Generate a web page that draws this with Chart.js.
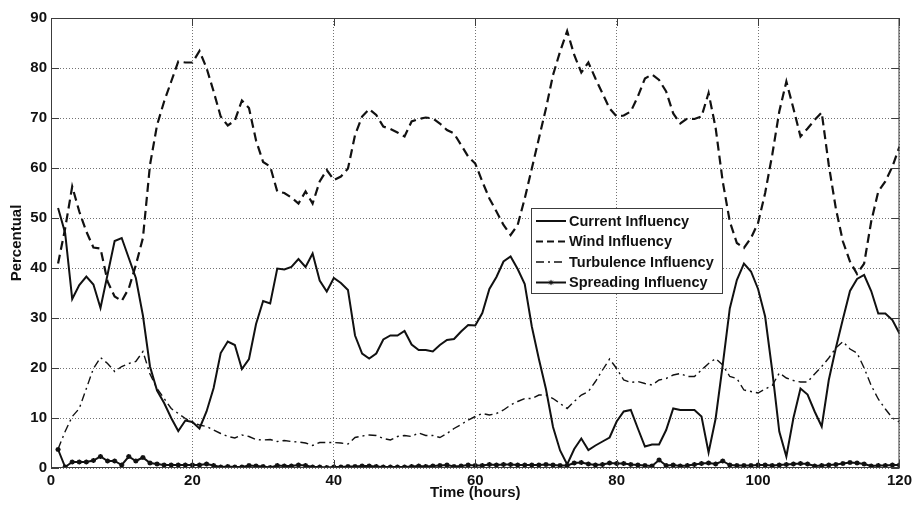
<!DOCTYPE html>
<html>
<head>
<meta charset="utf-8">
<script src="https://cdn.jsdelivr.net/npm/chart.js@4.4.1/dist/chart.umd.min.js"></script>
<style>
  html, body { margin: 0; padding: 0; background: #ffffff; }
  #c { display: block; }
</style>
</head>
<body>
<canvas id="c" width="916" height="512"></canvas>
<script>
// ---- data ----
const hours = [1,2,3,4,5,6,7,8,9,10,11,12,13,14,15,16,17,18,19,20,
  21,22,23,24,25,26,27,28,29,30,31,32,33,34,35,36,37,38,39,40,
  41,42,43,44,45,46,47,48,49,50,51,52,53,54,55,56,57,58,59,60,
  61,62,63,64,65,66,67,68,69,70,71,72,73,74,75,76,77,78,79,80,
  81,82,83,84,85,86,87,88,89,90,91,92,93,94,95,96,97,98,99,100,
  101,102,103,104,105,106,107,108,109,110,111,112,113,114,115,116,117,118,119,120];

const currentInfluency = [52,47,33.8,36.6,38.3,36.7,32,38.7,45.4,46,
  42,38,30.5,20.3,15.5,13,10,7.4,9.5,9.2,
  7.9,11.3,16,23,25.3,24.6,19.8,21.8,28.8,33.4,
  32.9,39.9,39.7,40.2,41.8,40.2,42.9,37.5,35.3,38,
  37,35.6,26.5,22.9,21.9,22.9,25.7,26.5,26.5,27.4,
  24.7,23.6,23.6,23.3,24.6,25.6,25.8,27.3,28.6,28.5,
  31,35.8,38.2,41.3,42.3,39.8,36.8,28.3,21.8,15.8,
  8.2,3.5,0.7,3.8,5.9,3.6,4.5,5.3,6.1,9.3,
  11.3,11.6,7.9,4.3,4.7,4.7,7.6,11.9,11.6,11.6,
  11.6,10.3,3.1,9.9,20.6,31.9,37.6,40.9,39.3,35.8,
  30.3,19.5,7.3,2.3,10,15.9,14.7,11.3,8.3,17.6,
  24,29.8,35.4,37.8,38.6,35.4,30.9,30.9,29.6,26.9];

const windInfluency = [40.9,47.9,56.3,51.3,47.3,44.1,43.9,37.3,34.3,33.4,
  35.9,40.6,46,60.6,68.6,73.3,77.3,81.3,81.1,81.1,
  83.4,80,75.3,70.3,68.5,69.5,73.5,72,65.5,61.2,
  60.3,55.3,55,54.1,52.9,55.3,52.9,57.3,59.6,57.6,
  58.3,59.9,66.6,70.3,71.8,70.6,68.3,67.8,67.1,66.3,
  69.3,69.8,70.1,69.9,68.9,67.6,66.9,64.6,62.3,60.9,
  57.3,53.9,51.3,48.6,46.6,48.6,53.9,59.9,65.9,71.9,
  78.6,83.3,87.4,82.6,79.1,81.1,77.9,74.9,71.9,70.3,
  70.5,71.3,74.3,77.9,78.7,77.6,75.3,70.9,68.9,69.9,
  69.8,70.3,75,68,57.3,49.3,45,44,46,49,
  55,62.6,71.3,77.3,71.9,66.3,67.9,69.6,71.1,60.6,
  51.9,45.3,41.3,38.8,40.9,49.3,55.3,57.3,60.3,64.3];

const turbulenceInfluency = [3.8,7.3,10.3,11.9,15.9,19.9,22.1,20.9,19.3,20.3,
  20.9,21.3,23.3,18.8,15.9,13.9,11.9,10.9,9.9,9.1,
  8.6,8.3,7.6,6.9,6.3,6,6.6,6.3,5.7,5.6,
  5.7,5.3,5.5,5.3,5.2,5,4.5,5.1,5.1,5.1,
  5,4.8,6.1,6.4,6.6,6.5,5.9,5.6,6.3,6.5,
  6.3,7,6.5,6.5,6.1,6.9,7.9,8.7,9.6,10.3,
  10.9,10.6,10.9,11.6,12.6,13.3,13.9,13.9,14.6,14.6,
  13.9,12.9,11.9,13.3,14.6,15.3,17.3,19.6,21.8,19.9,
  17.6,17.1,17.3,16.9,16.6,17.6,17.9,18.6,18.9,18.3,
  18.3,19.6,20.9,21.9,20.6,18.3,17.9,15.6,15.3,15,
  15.8,16.5,19,18,17.5,17.2,17.2,18.8,20.3,22,
  24,25.3,23.8,23,20,16.5,13.8,11.8,10,9.2];

const spreadingInfluency = [3.7,0.2,1.2,1.2,1.2,1.5,2.3,1.4,1.4,0.6,
  2.3,1.4,2.1,1.0,0.8,0.6,0.6,0.6,0.6,0.6,
  0.6,0.8,0.5,0.2,0.3,0.2,0.2,0.5,0.4,0.3,
  0.1,0.5,0.4,0.4,0.6,0.5,0.2,0.2,0.1,0.2,
  0.2,0.3,0.3,0.4,0.4,0.3,0.2,0.2,0.2,0.2,
  0.3,0.4,0.3,0.4,0.5,0.6,0.3,0.4,0.6,0.5,
  0.5,0.7,0.6,0.7,0.7,0.6,0.6,0.6,0.6,0.7,
  0.6,0.5,0.5,1.0,1.1,0.8,0.6,0.7,1.0,0.9,
  0.9,0.7,0.6,0.5,0.4,1.6,0.5,0.6,0.4,0.5,
  0.7,0.9,1.0,0.8,1.4,0.6,0.5,0.5,0.5,0.6,
  0.6,0.5,0.6,0.7,0.8,0.9,0.8,0.4,0.5,0.6,
  0.7,0.9,1.1,1.0,0.8,0.4,0.5,0.5,0.6,0.6];

const seriesLabels = ['Current Influency','Wind Influency','Turbulence Influency','Spreading Influency'];
const xTickValues = [0,20,40,60,80,100,120];
const yTickValues = [0,10,20,30,40,50,60,70,80,90];

// ---- helpers ----
const pts = (vals) => hours.map((h, i) => ({ x: h, y: vals[i] }));
const FONT = 'Liberation Sans, Arial, Helvetica, sans-serif';

Chart.defaults.font.family = FONT;
Chart.defaults.color = '#111';

const frameAndLegend = {
  id: 'frameAndLegend',
  afterDatasetsDraw(chart) {
    const { ctx, chartArea: a, scales: { x, y } } = chart;
    ctx.save();
    // box
    ctx.strokeStyle = '#3c3c3c';
    ctx.lineWidth = 1;
    ctx.setLineDash([]);
    ctx.strokeRect(a.left + 0.5, a.top + 0.5, a.right - a.left - 1, a.bottom - a.top - 1);
    // inward ticks
    const tl = 8;
    ctx.beginPath();
    xTickValues.forEach(v => {
      const px = Math.round(x.getPixelForValue(v)) + 0.5;
      ctx.moveTo(px, a.bottom); ctx.lineTo(px, a.bottom - tl);
      ctx.moveTo(px, a.top); ctx.lineTo(px, a.top + tl);
    });
    yTickValues.forEach(v => {
      const py = Math.round(y.getPixelForValue(v)) + 0.5;
      ctx.moveTo(a.left, py); ctx.lineTo(a.left + tl, py);
      ctx.moveTo(a.right, py); ctx.lineTo(a.right - tl, py);
    });
    ctx.stroke();

    // legend
    const lx = 531, ly = 208, lw = 191, lh = 85;
    ctx.fillStyle = '#fff';
    ctx.fillRect(lx, ly, lw, lh);
    ctx.strokeStyle = '#3c3c3c';
    ctx.strokeRect(lx + 0.5, ly + 0.5, lw, lh);
    const rows = [221, 241.5, 262, 282.5];
    ctx.font = 'bold 14.5px ' + FONT;
    ctx.textBaseline = 'middle';
    ctx.textAlign = 'left';
    chart.data.datasets.forEach((ds, i) => {
      const yy = rows[i];
      ctx.save();
      ctx.strokeStyle = ds.borderColor;
      ctx.lineWidth = ds.borderWidth;
      ctx.setLineDash(ds.legendDash || []);
      ctx.beginPath();
      ctx.moveTo(536, yy); ctx.lineTo(566, yy);
      ctx.stroke();
      ctx.restore();
      if (ds.pointRadius > 0) {
        ctx.save();
        ctx.strokeStyle = ds.borderColor;
        ctx.fillStyle = ds.borderColor;
        Chart.helpers.drawPoint(ctx, { pointStyle: ds.pointStyle, radius: ds.pointRadius, borderWidth: ds.pointBorderWidth, rotation: 0 }, 551, yy);
        ctx.restore();
      }
      ctx.fillStyle = '#111';
      ctx.fillText(ds.label, 569, yy + 0.5);
    });
    ctx.restore();
  }
};

new Chart(document.getElementById('c'), {
  type: 'line',
  data: {
    datasets: [
      { label: seriesLabels[0], data: pts(currentInfluency), borderColor: '#111', borderWidth: 2,
        pointRadius: 0, tension: 0, legendDash: [] },
      { label: seriesLabels[1], data: pts(windInfluency), borderColor: '#111', borderWidth: 2.2,
        borderDash: [9, 5], pointRadius: 0, tension: 0, legendDash: [7, 4] },
      { label: seriesLabels[2], data: pts(turbulenceInfluency), borderColor: '#111', borderWidth: 1.4,
        borderDash: [8, 4, 2, 4], pointRadius: 0, tension: 0, legendDash: [8, 4, 2, 4] },
      { label: seriesLabels[3], data: pts(spreadingInfluency), borderColor: '#111', backgroundColor: '#111',
        borderWidth: 2, pointRadius: 2.6, pointStyle: 'star', pointBorderWidth: 1.4,
        pointBorderColor: '#111', pointBackgroundColor: '#111', tension: 0, legendDash: [] }
    ]
  },
  options: {
    responsive: false,
    devicePixelRatio: 1,
    animation: false,
    events: [],
    layout: { padding: { top: 18, right: 15, left: 0, bottom: 0 } },
    plugins: { legend: { display: false }, tooltip: { enabled: false } },
    scales: {
      x: {
        type: 'linear', min: 0, max: 120,
        afterFit: (s) => { s.height = 44; },
        afterBuildTicks: (s) => { s.ticks = xTickValues.map(v => ({ value: v })); },
        ticks: { padding: 4, font: { size: 15, weight: 'bold' }, color: '#111' },
        grid: { drawTicks: false, color: 'rgba(0,0,0,0.55)', lineWidth: 1 },
        border: { display: false, dash: [1, 2] },
        title: { display: true, text: 'Time (hours)', font: { size: 15, weight: 'bold' }, color: '#111',
          padding: { top: 0, bottom: 10 } }
      },
      y: {
        type: 'linear', min: 0, max: 90,
        afterFit: (s) => { s.width = 51; },
        afterBuildTicks: (s) => { s.ticks = yTickValues.map(v => ({ value: v })); },
        ticks: { padding: 4, font: { size: 15, weight: 'bold' }, color: '#111' },
        grid: { drawTicks: false, color: 'rgba(0,0,0,0.55)', lineWidth: 1 },
        border: { display: false, dash: [1, 2] },
        title: { display: true, text: 'Percentual', font: { size: 15, weight: 'bold' }, color: '#111',
          padding: { top: 8, bottom: 0 } }
      }
    }
  },
  plugins: [frameAndLegend]
});
</script>
</body>
</html>
